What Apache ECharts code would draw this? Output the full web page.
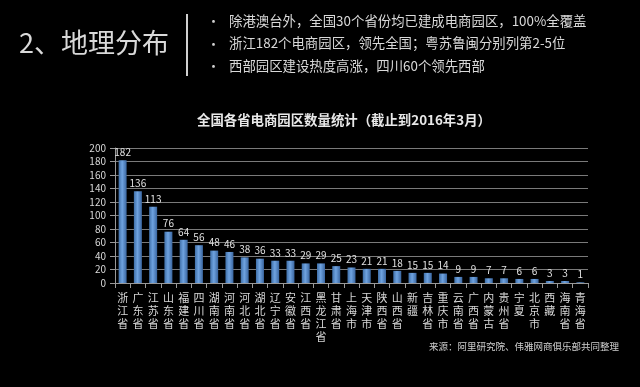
<!DOCTYPE html>
<html><head><meta charset="utf-8">
<script src="https://cdn.jsdelivr.net/npm/echarts@6/dist/echarts.min.js"></script>
<style>html,body{margin:0;padding:0;background:#000;}#c{width:640px;height:387px;}</style>
</head><body><div id="c"></div>
<script>
const categories = ['浙江省','广东省','江苏省','山东省','福建省','四川省','湖南省','河南省','河北省','湖北省','辽宁省','安徽省','江西省','黑龙江省','甘肃省','上海市','天津市','陕西省','山西省','新疆','吉林省','重庆市','云南省','广西省','内蒙古','贵州省','宁夏','北京市','西藏','海南省','青海省'];
const values = [182,136,113,76,64,56,48,46,38,36,33,33,29,29,25,23,21,21,18,15,15,14,9,9,7,7,6,6,3,3,1];
const yTicks = [0,20,40,60,80,100,120,140,160,180,200];
const bullets = ['除港澳台外，全国30个省份均已建成电商园区，100%全覆盖','浙江182个电商园区，领先全国；粤苏鲁闽分别列第2-5位','西部园区建设热度高涨，四川60个领先西部'];
const font = '"Noto Sans CJK SC", "Noto Sans", sans-serif';
const chart = echarts.init(document.getElementById('c'));
const g = [
  {type:'text', left:19, top:29, style:{text:'2、地理分布', fill:'#d9d9d9', font:'27px '+font}},
  {type:'rect', shape:{x:186, y:14, width:2, height:62}, style:{fill:'#d0d0d0'}},
  {type:'text', left:197, top:113, style:{text:'全国各省电商园区数量统计（截止到2016年3月）', fill:'#e8e8e8', font:'bold 13.4px '+font}},
  {type:'text', left:429, top:342, style:{text:'来源：阿里研究院、伟雅网商俱乐部共同整理', fill:'#cfcfcf', font:'9.5px '+font}}
];
bullets.forEach((b,i)=>{
  g.push({type:'text', left:207, top:15+i*22.5, style:{text:'•', fill:'#d0d0d0', font:'13px '+font}});
  g.push({type:'text', left:229, top:14+i*22.5, style:{text:b, fill:'#d9d9d9', font:'13.4px '+font}});
});
chart.setOption({
  backgroundColor:'#000',
  animation:false,
  graphic:g,
  grid:{left:115, right:52, top:148, bottom:104, containLabel:false},
  xAxis:{type:'category', data:categories,
    axisLine:{lineStyle:{color:'#999'}},
    axisTick:{show:true, lineStyle:{color:'#999'}},
    axisLabel:{interval:0, color:'#d8d8d8', fontSize:11, fontFamily:font, lineHeight:13,
      formatter:v=>v.split('').join('\n')}},
  yAxis:{type:'value', min:0, max:200, interval:20,
    axisLine:{show:true, lineStyle:{color:'#999'}},
    axisTick:{show:true, lineStyle:{color:'#999'}},
    splitLine:{lineStyle:{color:'#7a7a7a'}},
    axisLabel:{color:'#d8d8d8', fontSize:10, fontFamily:font, margin:9,
      formatter:v=>yTicks.includes(v)?String(v):''}},
  series:[{type:'bar', data:values, barWidth:8,
    itemStyle:{color:new echarts.graphic.LinearGradient(0,0,1,0,[
      {offset:0,color:'#3f6fa8'},{offset:0.45,color:'#6fa3e0'},{offset:1,color:'#3a66a0'}])},
    label:{show:true, position:'top', color:'#e0e0e0', fontSize:10, fontFamily:font, distance:3}}]
});
</script></body></html>
